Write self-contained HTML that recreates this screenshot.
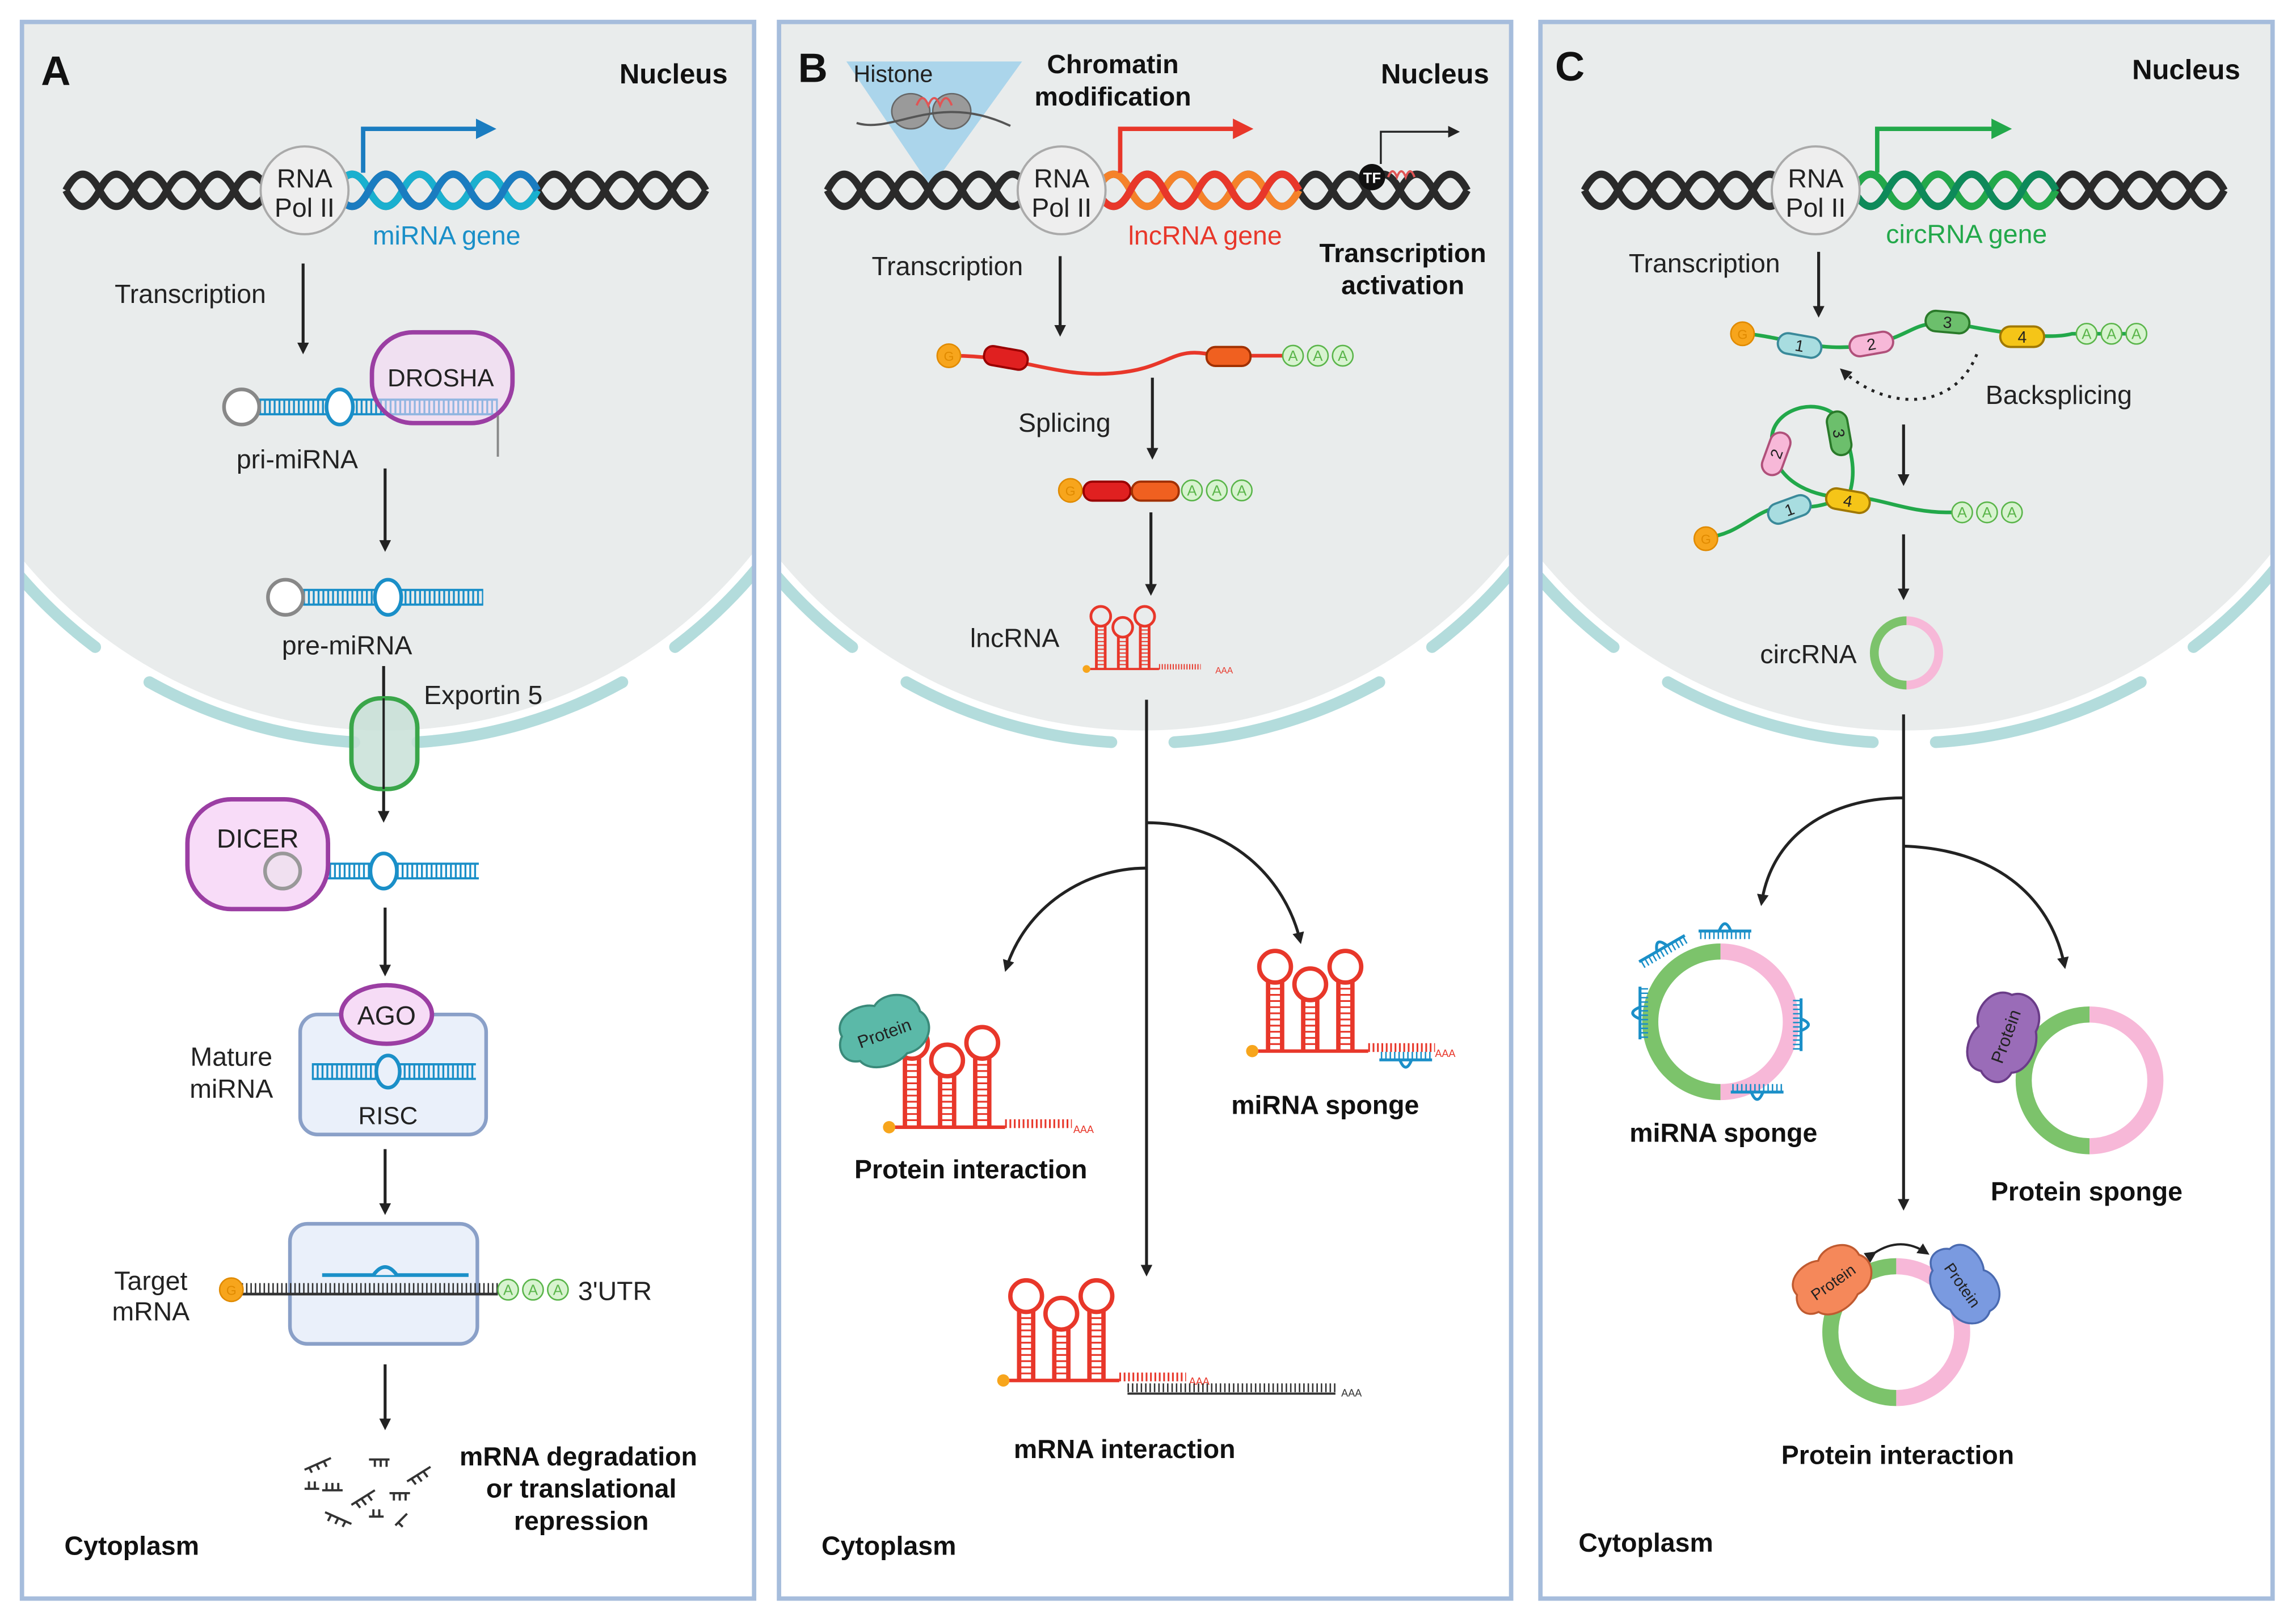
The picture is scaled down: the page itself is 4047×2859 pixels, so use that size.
<!DOCTYPE html>
<html><head><meta charset="utf-8"><style>
html,body{margin:0;padding:0;background:#fff;}
svg{display:block;font-family:"Liberation Sans",sans-serif;}
.t{font-size:18px;fill:#222;text-anchor:middle}
.b{font-size:18px;font-weight:bold;fill:#111;text-anchor:middle}
.big{font-size:28px;font-weight:bold;fill:#111}
.s{font-size:10px;text-anchor:middle}
</style></head><body>
<svg width="4047" height="2859" viewBox="0 0 1568 1108" preserveAspectRatio="none" xmlns="http://www.w3.org/2000/svg" xmlns:xlink="http://www.w3.org/1999/xlink">
<defs>
<marker id="ak" markerWidth="8" markerHeight="8" refX="6" refY="4" orient="auto" markerUnits="userSpaceOnUse"><path d="M0,0 L8,4 L0,8 z" fill="#222"/></marker>
<marker id="ab" markerWidth="14" markerHeight="14" refX="10" refY="7" orient="auto" markerUnits="userSpaceOnUse"><path d="M0,0 L14,7 L0,14 z" fill="#1a7cc0"/></marker>
<marker id="ar" markerWidth="14" markerHeight="14" refX="10" refY="7" orient="auto" markerUnits="userSpaceOnUse"><path d="M0,0 L14,7 L0,14 z" fill="#e8372a"/></marker>
<marker id="ag" markerWidth="14" markerHeight="14" refX="10" refY="7" orient="auto" markerUnits="userSpaceOnUse"><path d="M0,0 L14,7 L0,14 z" fill="#22a84a"/></marker>
<clipPath id="cA"><rect x="15" y="15" width="500" height="1077"/></clipPath>
<clipPath id="cB"><rect x="532" y="15" width="500" height="1077"/></clipPath>
<clipPath id="cC"><rect x="1052" y="15" width="500" height="1077"/></clipPath>
<g id="nuc">
 <circle cx="263" cy="178" r="321" fill="#e9ecec"/>
 <g stroke="#b3dcdc" stroke-width="8" fill="none" stroke-linecap="round">
  <path d="M0,377 A330,330 0 0 0 65,442"/>
  <path d="M102,466 A330,330 0 0 0 242,507"/>
  <path d="M285,507 A330,330 0 0 0 425,466"/>
  <path d="M461,442 A330,330 0 0 0 540,357"/>
 </g>
</g>
<g id="lnc" fill="none" stroke-width="2.5">
 <line x1="5" y1="0" x2="5" y2="-40"/><line x1="13" y1="0" x2="13" y2="-40"/>
 <line x1="9" y1="0" x2="9" y2="-40" stroke-width="7" stroke-dasharray="1 2.5"/>
 <circle cx="9" cy="-48" r="9"/>
 <line x1="25" y1="0" x2="25" y2="-30"/><line x1="33" y1="0" x2="33" y2="-30"/>
 <line x1="29" y1="0" x2="29" y2="-30" stroke-width="7" stroke-dasharray="1 2.5"/>
 <circle cx="29" cy="-38" r="9"/>
 <line x1="45" y1="0" x2="45" y2="-40"/><line x1="53" y1="0" x2="53" y2="-40"/>
 <line x1="49" y1="0" x2="49" y2="-40" stroke-width="7" stroke-dasharray="1 2.5"/>
 <circle cx="49" cy="-48" r="9"/>
 <line x1="-4" y1="0" x2="62" y2="0" stroke-width="2"/>
 <line x1="62" y1="-2" x2="100" y2="-2" stroke-width="5" stroke-dasharray="1 1.5"/>
 <circle cx="-4" cy="0" r="3.5" fill="#f7a51c" stroke="none"/>
</g>
<path id="prot" d="M-28,-8 C-30,-22 -10,-26 0,-20 C10,-28 30,-20 28,-6 C36,4 26,20 10,18 C0,24 -18,22 -22,12 C-34,10 -34,-2 -28,-8 Z"/>
<g id="mir" stroke="#1a8fc8" fill="none">
 <line x1="-18" y1="0" x2="18" y2="0" stroke-width="2"/>
 <line x1="-17" y1="3" x2="17" y2="3" stroke-width="5" stroke-dasharray="1 2"/>
 <path d="M-4,0 q4,-10 8,0" stroke-width="2"/>
</g>
</defs>

<!-- panels background -->
<g clip-path="url(#cA)"><use xlink:href="#nuc"/></g>
<g clip-path="url(#cB)"><use xlink:href="#nuc" transform="translate(517,0)"/></g>
<g clip-path="url(#cC)"><use xlink:href="#nuc" transform="translate(1037,0)"/></g>
<g fill="none" stroke="#a6bddc" stroke-width="3">
<rect x="15" y="15" width="500" height="1077"/><rect x="532" y="15" width="500" height="1077"/><rect x="1052" y="15" width="500" height="1077"/>
</g>

<!-- ============ Panel A ============ -->
<g fill="none" stroke-width="5">
<path stroke="#2a2a2a" d="M45,130 q11.5,-22 23,0 t23,0 t23,0 t23,0 t23,0 t23,0 t23,0 t23,0 t23,0 t23,0 t23,0 t23,0 t23,0 t23,0 t23,0 t23,0 t23,0 t23,0 t23,0"/>
<path stroke="#2a2a2a" d="M45,130 q11.5,22 23,0 t23,0 t23,0 t23,0 t23,0 t23,0 t23,0 t23,0 t23,0 t23,0 t23,0 t23,0 t23,0 t23,0 t23,0 t23,0 t23,0 t23,0 t23,0"/>
<path stroke="#1ab0cf" d="M229,130 q11.5,-22 23,0 t23,0 t23,0 t23,0 t23,0 t23,0"/>
<path stroke="#1a7cc0" d="M229,130 q11.5,22 23,0 t23,0 t23,0 t23,0 t23,0 t23,0"/>
</g>
<circle cx="208" cy="130" r="30" fill="#eee" stroke="#aaa" stroke-width="1.5"/>
<text x="208" y="128" class="t">RNA</text><text x="208" y="148" class="t">Pol II</text>
<path d="M248,118 L248,88 L335,88" stroke="#1a7cc0" stroke-width="3" fill="none" marker-end="url(#ab)"/>
<g stroke="#222" stroke-width="2" marker-end="url(#ak)">
<line x1="207" y1="180" x2="207" y2="240"/>
<line x1="263" y1="320" x2="263" y2="375"/>
<line x1="262" y1="455" x2="262" y2="560"/>
<line x1="263" y1="620" x2="263" y2="665"/>
<line x1="263" y1="785" x2="263" y2="828"/>
<line x1="263" y1="932" x2="263" y2="975"/>
</g>
<g stroke="#1a8fc8" fill="none">
<line x1="177" y1="273" x2="340" y2="273" stroke-width="1.5"/><line x1="177" y1="283" x2="340" y2="283" stroke-width="1.5"/>
<line x1="177" y1="278" x2="340" y2="278" stroke-width="10" stroke-dasharray="1.3 2"/>
<line x1="207" y1="403" x2="330" y2="403" stroke-width="1.5"/><line x1="207" y1="413" x2="330" y2="413" stroke-width="1.5"/>
<line x1="207" y1="408" x2="330" y2="408" stroke-width="10" stroke-dasharray="1.3 2"/>
<line x1="205" y1="590" x2="327" y2="590" stroke-width="1.5"/><line x1="205" y1="600" x2="327" y2="600" stroke-width="1.5"/>
<line x1="205" y1="595" x2="327" y2="595" stroke-width="10" stroke-dasharray="1.3 2"/>
</g>
<g fill="#fff" stroke-width="2.5">
<circle cx="165" cy="278" r="12" stroke="#888"/><ellipse cx="232" cy="278" rx="9" ry="12" stroke="#1a8fc8"/>
<circle cx="195" cy="408" r="12" stroke="#888"/><ellipse cx="265" cy="408" rx="9" ry="12" stroke="#1a8fc8"/>
</g>
<rect x="254" y="227" width="96" height="62" rx="28" fill="rgba(245,215,245,0.55)" stroke="#9b3ea3" stroke-width="3"/>
<text x="301" y="264" class="t" style="font-size:17px">DROSHA</text>
<line x1="340" y1="284" x2="340" y2="312" stroke="#888" stroke-width="1.5"/>
<rect x="240" y="477" width="45" height="62" rx="20" fill="rgba(200,225,215,0.85)" stroke="#3aa64a" stroke-width="3"/>
<line x1="262" y1="477" x2="262" y2="539" stroke="#222" stroke-width="1.5"/>
<rect x="128" y="546" width="96" height="75" rx="30" fill="#f8dcf8" stroke="#9b3ea3" stroke-width="3"/>
<text x="176" y="579" class="t">DICER</text>
<circle cx="193" cy="595" r="12" fill="#f0e0f0" stroke="#999" stroke-width="2.5"/>
<ellipse cx="262" cy="595" rx="9" ry="12" fill="#fff" stroke="#1a8fc8" stroke-width="2.5"/>
<rect x="205" y="693" width="127" height="82" rx="12" fill="#eaf0fa" stroke="#8aa0c8" stroke-width="2.5"/>
<g stroke="#1a8fc8" fill="none">
<line x1="213" y1="727" x2="325" y2="727" stroke-width="1.5"/><line x1="213" y1="737" x2="325" y2="737" stroke-width="1.5"/>
<line x1="213" y1="732" x2="325" y2="732" stroke-width="9" stroke-dasharray="1.3 2"/>
</g>
<ellipse cx="265" cy="732" rx="8" ry="11" fill="#eaf0fa" stroke="#1a8fc8" stroke-width="2.5"/>
<ellipse cx="264" cy="693" rx="31" ry="20" fill="#f6dcf6" stroke="#9b3ea3" stroke-width="3"/>
<text x="264" y="700" class="t">AGO</text>
<text x="265" y="768" class="t" style="font-size:17px">RISC</text>
<rect x="198" y="836" width="128" height="82" rx="12" fill="#eaf0fa" stroke="#8aa0c8" stroke-width="2.5"/>
<g stroke="#333" fill="none">
<line x1="165" y1="884" x2="340" y2="884" stroke-width="1.8"/>
<line x1="165" y1="880" x2="340" y2="880" stroke-width="7" stroke-dasharray="1 2"/>
</g>
<line x1="220" y1="871" x2="320" y2="871" stroke="#1a8fc8" stroke-width="2.5"/>
<path d="M255,871 Q263,860 271,871" stroke="#1a8fc8" stroke-width="2.5" fill="#eaf0fa"/>
<circle cx="158" cy="881" r="8" fill="#f7a51c" stroke="#e08a00"/><text x="158" y="884.5" class="s" style="font-size:9px;fill:#e08a00">G</text>
<g fill="#d8f3d0" stroke="#5ab54a"><circle cx="347" cy="881" r="7"/><circle cx="364" cy="881" r="7"/><circle cx="381" cy="881" r="7"/></g>
<g class="s" fill="#5ab54a"><text x="347" y="884.5">A</text><text x="364" y="884.5">A</text><text x="381" y="884.5">A</text></g>
<g stroke="#333" stroke-width="1.5" fill="none">
<path d="M208,1004 l18,-8 M211,1002 l2,4 M216,1000 l2,4 M221,998 l2,4"/>
<path d="M252,997 l14,0 M256,997 v5 M260,997 v5 M264,997 v5"/>
<path d="M278,1012 l16,-10 M281,1010 l3,4 M285,1008 l3,4 M289,1005 l3,4"/>
<path d="M220,1018 l14,0 M223,1018 v-5 M227,1018 v-5 M231,1018 v-5"/>
<path d="M240,1028 l16,-10 M243,1026 l3,4 M247,1024 l3,4 M251,1021 l3,4"/>
<path d="M266,1020 l14,0 M269,1020 v5 M273,1020 v5 M277,1020 v5"/>
<path d="M222,1033 l18,8 M226,1035 l-2,4 M231,1037 l-2,4 M236,1039 l-2,4"/>
<path d="M252,1036 l10,0 M255,1036 v-5 M259,1036 v-5"/>
<path d="M270,1042 l8,-8 M272,1040 l3,3"/>
<path d="M208,1017 l10,0 M211,1017 v-5 M215,1017 v-5"/>
</g>
<text x="28" y="58" class="big">A</text>
<text x="460" y="57" class="b" style="font-size:19px">Nucleus</text>
<text x="130" y="207" class="t">Transcription</text>
<text x="305" y="167" class="t" style="fill:#1a8fc8">miRNA gene</text>
<text x="203" y="320" class="t">pri-miRNA</text>
<text x="237" y="447" class="t">pre-miRNA</text>
<text x="330" y="481" class="t">Exportin 5</text>
<text x="158" y="728" class="t">Mature</text>
<text x="158" y="750" class="t">miRNA</text>
<text x="103" y="881" class="t">Target</text>
<text x="103" y="902" class="t">mRNA</text>
<text x="420" y="888" class="t">3'UTR</text>
<text x="395" y="1001" class="b">mRNA degradation</text>
<text x="397" y="1023" class="b">or translational</text>
<text x="397" y="1045" class="b">repression</text>
<text x="90" y="1062" class="b">Cytoplasm</text>

<!-- ============ Panel B ============ -->
<path d="M578,42 L698,42 L636,128 Z" fill="rgba(150,205,235,0.75)"/>
<ellipse cx="622" cy="76" rx="13" ry="12" fill="#9a9a9a" stroke="#666"/>
<ellipse cx="650" cy="76" rx="13" ry="12" fill="#9a9a9a" stroke="#666"/>
<path d="M585,84 C610,92 640,62 690,86" stroke="#555" stroke-width="1.5" fill="none"/>
<path d="M626,72 q4,-10 8,0 q4,-10 8,0 q4,-10 8,0" stroke="#e05555" stroke-width="1.5" fill="none"/>
<g fill="none" stroke-width="5">
<path stroke="#2a2a2a" d="M565,130 q11.5,-22 23,0 t23,0 t23,0 t23,0 t23,0 t23,0 t23,0 t23,0 t23,0 t23,0 t23,0 t23,0 t23,0 t23,0 t23,0 t23,0 t23,0 t23,0 t23,0"/>
<path stroke="#2a2a2a" d="M565,130 q11.5,22 23,0 t23,0 t23,0 t23,0 t23,0 t23,0 t23,0 t23,0 t23,0 t23,0 t23,0 t23,0 t23,0 t23,0 t23,0 t23,0 t23,0 t23,0 t23,0"/>
<path stroke="#f5822a" d="M749,130 q11.5,-22 23,0 t23,0 t23,0 t23,0 t23,0 t23,0"/>
<path stroke="#e8372a" d="M749,130 q11.5,22 23,0 t23,0 t23,0 t23,0 t23,0 t23,0"/>
</g>
<circle cx="725" cy="130" r="30" fill="#eee" stroke="#aaa" stroke-width="1.5"/>
<text x="725" y="128" class="t">RNA</text><text x="725" y="148" class="t">Pol II</text>
<path d="M765,118 L765,88 L852,88" stroke="#e8372a" stroke-width="3" fill="none" marker-end="url(#ar)"/>
<path d="M943,112 L943,90 L995,90" stroke="#222" stroke-width="1.3" fill="none" marker-end="url(#ak)"/>
<circle cx="937" cy="121" r="9" fill="#111"/><text x="937" y="125" class="s" style="fill:#fff;font-weight:bold">TF</text>
<path d="M948,121 q3,-8 6,0 q3,-8 6,0 q3,-8 6,0" stroke="#e05555" stroke-width="1.5" fill="none"/>
<g stroke="#222" stroke-width="2" marker-end="url(#ak)" fill="none">
<line x1="724" y1="175" x2="724" y2="228"/>
<line x1="787" y1="258" x2="787" y2="312"/>
<line x1="786" y1="350" x2="786" y2="405"/>
<line x1="783" y1="478" x2="783" y2="870"/>
<path d="M783,593 C740,593 700,620 687,662"/>
<path d="M783,562 C840,562 878,600 888,643"/>
</g>
<path d="M650,243 C700,243 720,258 760,255 C800,252 800,235 830,243 L880,243" stroke="#e8372a" stroke-width="2.5" fill="none"/>
<circle cx="648" cy="243" r="8" fill="#f7a51c" stroke="#e08a00"/><text x="648" y="246.5" class="s" style="font-size:9px;fill:#e08a00">G</text>
<rect x="672" y="238" width="30" height="13" rx="6" fill="#e02020" stroke="#900" stroke-width="1.5" transform="rotate(10 687 244)"/>
<rect x="824" y="237" width="30" height="13" rx="6" fill="#f06020" stroke="#a03000" stroke-width="1.5"/>
<g fill="#d8f3d0" stroke="#5ab54a"><circle cx="883" cy="243" r="7"/><circle cx="900" cy="243" r="7"/><circle cx="917" cy="243" r="7"/>
<circle cx="814" cy="335" r="7"/><circle cx="831" cy="335" r="7"/><circle cx="848" cy="335" r="7"/></g>
<g class="s" fill="#5ab54a"><text x="883" y="246.5">A</text><text x="900" y="246.5">A</text><text x="917" y="246.5">A</text>
<text x="814" y="338.5">A</text><text x="831" y="338.5">A</text><text x="848" y="338.5">A</text></g>
<circle cx="731" cy="335" r="8" fill="#f7a51c" stroke="#e08a00"/><text x="731" y="338.5" class="s" style="font-size:9px;fill:#e08a00">G</text>
<rect x="740" y="329" width="32" height="13" rx="6" fill="#e02020" stroke="#900" stroke-width="1.5"/>
<rect x="773" y="329" width="32" height="13" rx="6" fill="#f06020" stroke="#a03000" stroke-width="1.5"/>
<use xlink:href="#lnc" stroke="#e8372a" transform="translate(745,457) scale(0.75)"/>
<text x="830" y="460" font-size="6" fill="#e8372a">AAA</text>
<use xlink:href="#lnc" stroke="#e8372a" transform="translate(612,770) scale(1.2)"/>
<text x="733" y="774" font-size="7" fill="#e8372a">AAA</text>
<g transform="translate(604,706) rotate(-20)"><use xlink:href="#prot" fill="#5bb9a8" stroke="#3a8a7a" stroke-width="1.5"/><text x="0" y="4" font-size="12" text-anchor="middle" fill="#222">Protein</text></g>
<use xlink:href="#lnc" stroke="#e8372a" transform="translate(860,718) scale(1.2)"/>
<text x="980" y="722" font-size="7" fill="#e8372a">AAA</text>
<g transform="translate(960,724) scale(1,-1)"><use xlink:href="#mir"/></g>
<use xlink:href="#lnc" stroke="#e8372a" transform="translate(690,943) scale(1.2)"/>
<text x="812" y="946" font-size="7" fill="#e8372a">AAA</text>
<g stroke="#333" fill="none"><line x1="770" y1="952" x2="912" y2="952" stroke-width="1.5"/><line x1="770" y1="948" x2="912" y2="948" stroke-width="6" stroke-dasharray="1 2"/></g>
<text x="916" y="954" font-size="7" fill="#333">AAA</text>
<text x="545" y="56" class="big">B</text>
<text x="980" y="57" class="b" style="font-size:19px">Nucleus</text>
<text x="760" y="50" class="b">Chromatin</text>
<text x="760" y="72" class="b">modification</text>
<text x="610" y="56" class="t" style="font-size:16px">Histone</text>
<text x="823" y="167" class="t" style="fill:#e8372a">lncRNA gene</text>
<text x="958" y="179" class="b">Transcription</text>
<text x="958" y="201" class="b">activation</text>
<text x="647" y="188" class="t">Transcription</text>
<text x="727" y="295" class="t">Splicing</text>
<text x="693" y="442" class="t">lncRNA</text>
<text x="663" y="805" class="b">Protein interaction</text>
<text x="905" y="761" class="b">miRNA sponge</text>
<text x="768" y="996" class="b">mRNA interaction</text>
<text x="607" y="1062" class="b">Cytoplasm</text>

<!-- ============ Panel C ============ -->
<g fill="none" stroke-width="5">
<path stroke="#2a2a2a" d="M1082,130 q11.5,-22 23,0 t23,0 t23,0 t23,0 t23,0 t23,0 t23,0 t23,0 t23,0 t23,0 t23,0 t23,0 t23,0 t23,0 t23,0 t23,0 t23,0 t23,0 t23,0"/>
<path stroke="#2a2a2a" d="M1082,130 q11.5,22 23,0 t23,0 t23,0 t23,0 t23,0 t23,0 t23,0 t23,0 t23,0 t23,0 t23,0 t23,0 t23,0 t23,0 t23,0 t23,0 t23,0 t23,0 t23,0"/>
<path stroke="#22a84a" d="M1266,130 q11.5,-22 23,0 t23,0 t23,0 t23,0 t23,0 t23,0"/>
<path stroke="#0e8a5a" d="M1266,130 q11.5,22 23,0 t23,0 t23,0 t23,0 t23,0 t23,0"/>
</g>
<circle cx="1240" cy="130" r="30" fill="#eee" stroke="#aaa" stroke-width="1.5"/>
<text x="1240" y="128" class="t">RNA</text><text x="1240" y="148" class="t">Pol II</text>
<path d="M1282,118 L1282,88 L1370,88" stroke="#22a84a" stroke-width="3" fill="none" marker-end="url(#ag)"/>
<g stroke="#222" stroke-width="2" marker-end="url(#ak)" fill="none">
<line x1="1242" y1="172" x2="1242" y2="215"/>
<line x1="1300" y1="290" x2="1300" y2="330"/>
<line x1="1300" y1="365" x2="1300" y2="408"/>
<line x1="1300" y1="488" x2="1300" y2="825"/>
<path d="M1300,545 C1250,545 1210,570 1203,617"/>
<path d="M1300,578 C1360,580 1400,610 1410,660"/>
<path d="M1350,242 C1335,280 1290,282 1258,253" stroke-dasharray="2 4"/>
</g>
<path d="M1192,228 C1220,230 1250,245 1290,232 C1310,225 1310,218 1340,222 C1370,228 1400,232 1415,228 L1465,228" stroke="#22a84a" stroke-width="2.5" fill="none"/>
<path d="M1166,367 C1190,365 1200,345 1222,346 C1245,348 1250,342 1262,340 C1280,338 1300,350 1330,350 L1340,350" stroke="#22a84a" stroke-width="2.5" fill="none"/>
<path d="M1262,340 C1270,320 1262,300 1255,285 C1240,270 1210,280 1210,300 C1210,330 1240,340 1262,340" stroke="#22a84a" stroke-width="2.5" fill="none"/>
<circle cx="1190" cy="228" r="8" fill="#f7a51c" stroke="#e08a00"/><text x="1190" y="231.5" class="s" style="font-size:9px;fill:#e08a00">G</text>
<circle cx="1165" cy="368" r="8" fill="#f7a51c" stroke="#e08a00"/><text x="1165" y="371.5" class="s" style="font-size:9px;fill:#e08a00">G</text>
<g font-size="11" text-anchor="middle" fill="#222" stroke-width="1.5">
<g transform="translate(1229,236) rotate(10)"><rect x="-15" y="-7" width="30" height="14" rx="7" fill="#a8dde0" stroke="#3a8a9a"/><text y="4">1</text></g>
<g transform="translate(1278,235) rotate(-10)"><rect x="-15" y="-7" width="30" height="14" rx="7" fill="#f7b8d8" stroke="#b0507a"/><text y="4">2</text></g>
<g transform="translate(1330,220) rotate(5)"><rect x="-15" y="-7" width="30" height="14" rx="7" fill="#6cbf6c" stroke="#2a7a2a"/><text y="4">3</text></g>
<g transform="translate(1381,230)"><rect x="-15" y="-7" width="30" height="14" rx="7" fill="#f5c518" stroke="#a07800"/><text y="4">4</text></g>
<g transform="translate(1222,348) rotate(-20)"><rect x="-15" y="-7" width="30" height="14" rx="7" fill="#a8dde0" stroke="#3a8a9a"/><text y="4">1</text></g>
<g transform="translate(1262,342) rotate(10)"><rect x="-15" y="-7" width="30" height="14" rx="7" fill="#f5c518" stroke="#a07800"/><text y="4">4</text></g>
<g transform="translate(1213,310) rotate(-70)"><rect x="-15" y="-7" width="30" height="14" rx="7" fill="#f7b8d8" stroke="#b0507a"/><text y="4">2</text></g>
<g transform="translate(1256,296) rotate(80)"><rect x="-15" y="-7" width="30" height="14" rx="7" fill="#6cbf6c" stroke="#2a7a2a"/><text y="4">3</text></g>
</g>
<g fill="#d8f3d0" stroke="#5ab54a"><circle cx="1425" cy="228" r="7"/><circle cx="1442" cy="228" r="7"/><circle cx="1459" cy="228" r="7"/>
<circle cx="1340" cy="350" r="7"/><circle cx="1357" cy="350" r="7"/><circle cx="1374" cy="350" r="7"/></g>
<g class="s" fill="#5ab54a"><text x="1425" y="231.5">A</text><text x="1442" y="231.5">A</text><text x="1459" y="231.5">A</text>
<text x="1340" y="353.5">A</text><text x="1357" y="353.5">A</text><text x="1374" y="353.5">A</text></g>
<g fill="none">
<path d="M1302,424 A22,22 0 0 0 1302,468" stroke="#7cc36b" stroke-width="6"/>
<path d="M1302,424 A22,22 0 0 1 1302,468" stroke="#f7b8d8" stroke-width="6"/>
<path d="M1175,650 A48,48 0 0 0 1175,746" stroke="#7cc36b" stroke-width="11"/>
<path d="M1175,650 A48,48 0 0 1 1175,746" stroke="#f7b8d8" stroke-width="11"/>
<path d="M1427,693 A45,45 0 0 0 1427,783" stroke="#7cc36b" stroke-width="11"/>
<path d="M1427,693 A45,45 0 0 1 1427,783" stroke="#f7b8d8" stroke-width="11"/>
<path d="M1295,865 A45,45 0 0 0 1295,955" stroke="#7cc36b" stroke-width="11"/>
<path d="M1295,865 A45,45 0 0 1 1295,955" stroke="#f7b8d8" stroke-width="11"/>
</g>
<use xlink:href="#mir" transform="translate(1135,648) rotate(-30)"/>
<use xlink:href="#mir" transform="translate(1178,636)"/>
<use xlink:href="#mir" transform="translate(1120,692) rotate(-90)"/>
<use xlink:href="#mir" transform="translate(1230,700) rotate(90)"/>
<use xlink:href="#mir" transform="translate(1200,746) rotate(180)"/>
<g transform="translate(1370,708) rotate(-70)"><use xlink:href="#prot" fill="#9a6cb8" stroke="#6a3c88" stroke-width="1.5"/><text x="0" y="4" font-size="12" text-anchor="middle" fill="#222">Protein</text></g>
<g transform="translate(1252,876) rotate(-35) scale(0.9)"><use xlink:href="#prot" fill="#f5885a" stroke="#c05a30" stroke-width="1.5"/><text x="0" y="4" font-size="12" text-anchor="middle" fill="#222">Protein</text></g>
<g transform="translate(1340,878) rotate(55) scale(0.9)"><use xlink:href="#prot" fill="#7a9ae0" stroke="#4a6ab0" stroke-width="1.5"/><text x="0" y="4" font-size="12" text-anchor="middle" fill="#222">Protein</text></g>
<path d="M1280,856 Q1298,844 1316,856" stroke="#222" stroke-width="1.5" fill="none" marker-end="url(#ak)" marker-start="url(#ak)"/>
<text x="1062" y="55" class="big">C</text>
<text x="1493" y="54" class="b" style="font-size:19px">Nucleus</text>
<text x="1343" y="166" class="t" style="fill:#22a84a">circRNA gene</text>
<text x="1164" y="186" class="t">Transcription</text>
<text x="1406" y="276" class="t">Backsplicing</text>
<text x="1235" y="453" class="t">circRNA</text>
<text x="1177" y="780" class="b">miRNA sponge</text>
<text x="1425" y="820" class="b">Protein sponge</text>
<text x="1296" y="1000" class="b">Protein interaction</text>
<text x="1124" y="1060" class="b">Cytoplasm</text>
</svg>
</body></html>
